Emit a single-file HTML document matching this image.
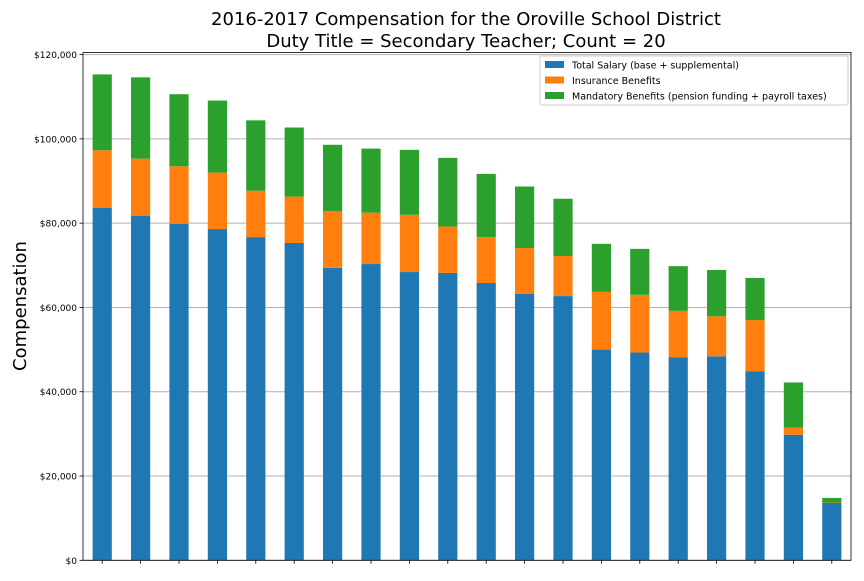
<!DOCTYPE html>
<html><head><meta charset="utf-8"><style>
body{margin:0;background:#fff;font-family:"Liberation Sans","DejaVu Sans",sans-serif;}
svg text{font-family:"DejaVu Sans","Liberation Sans",sans-serif;}
</style></head><body>
<svg id="chart" width="864" height="576" xmlns="http://www.w3.org/2000/svg">
<text x="466" y="25" font-size="18" text-anchor="middle">2016-2017 Compensation for the Oroville School District</text>
<text x="466" y="47" font-size="18" text-anchor="middle">Duty Title = Secondary Teacher; Count = 20</text>
<text transform="translate(26,306) rotate(-90)" font-size="18" text-anchor="middle">Compensation</text>
<g id="grid"></g><g id="bars"></g><g id="axes"></g>
</svg>
<script>
const categories = Array.from({length:20},(_,i)=>'Teacher '+(i+1));
const salary = [83.6,81.7,79.8,78.6,76.7,75.3,69.4,70.3,68.4,68.2,65.8,63.2,62.7,50.0,49.3,48.2,48.4,44.8,29.8,13.6];
const insurance = [13.7,13.6,13.7,13.4,11.0,11.0,13.5,12.2,13.6,11.0,10.9,10.9,9.5,13.7,13.7,11.0,9.5,12.2,1.7,0.1];
const mandatory = [18.0,19.3,17.1,17.1,16.7,16.4,15.7,15.2,15.4,16.3,15.0,14.6,13.6,11.4,10.9,10.6,11.0,10.0,10.7,1.1];
const yTicks = [0,20,40,60,80,100,120];
const seriesNames = ['Total Salary (base + supplemental)','Insurance Benefits','Mandatory Benefits (pension funding + payroll taxes)'];
const colors = ['#1f77b4','#ff7f0e','#2ca02c'];
const L=83,R=851,T=52.5,B=560.3,ymax=120.5;
const NS='http://www.w3.org/2000/svg';
const y=v=>B-(v/ymax)*(B-T);
const step=(R-L)/categories.length;
const xc=i=>L+step*(i+0.5);
function mk(tag,attrs,parent){const e=document.createElementNS(NS,tag);for(const k in attrs)e.setAttribute(k,attrs[k]);parent.appendChild(e);return e;}
const grid=document.getElementById('grid'),bars=document.getElementById('bars'),axes=document.getElementById('axes');
yTicks.forEach(t=>{
  const g=mk('line',{x1:L,x2:R,y1:y(t),y2:y(t),stroke:'#b0b0b0','stroke-width':1},grid);
  
  
  const tk=mk('line',{x1:L-3.5,x2:L,y1:y(t),y2:y(t),stroke:'#000','stroke-width':0.8},axes);
  
  
  const lb=mk('text',{x:L-6,y:y(t)+3.5,'font-size':9,'text-anchor':'end'},axes);
  lb.textContent='$'+(t*1000).toLocaleString('en-US');
  
  
});
const series=[salary,insurance,mandatory];
categories.forEach((c,i)=>{
  let base=0;
  series.forEach((s,k)=>{
    const v=s[i];
    const r=mk('rect',{x:xc(i)-step*0.25,width:step*0.5,y:y(base+v),height:y(base)-y(base+v),fill:colors[k]},bars);
    
    
    base+=v;
  });
  const tk=mk('line',{x1:xc(i),x2:xc(i),y1:B,y2:B+3.5,stroke:'#000','stroke-width':0.8},axes);
  
  
});
const frame=mk('rect',{x:L,y:T,width:R-L,height:B-T,fill:'none',stroke:'#000','stroke-width':0.8},axes);


const leg=mk('g',{},axes);


mk('rect',{x:540,y:56,width:308,height:49,fill:'#fff',stroke:'#ccc','stroke-width':1,rx:2},leg);
seriesNames.forEach((n,k)=>{
  const yy=65+k*15.5;
  const sw=mk('rect',{x:545,y:yy-4,width:19,height:7,fill:colors[k]},leg);
  
  
  const t=mk('text',{x:572,y:yy+3.5,'font-size':9.5},leg);
  t.textContent=n;
  
  
});
</script>
</body></html>
